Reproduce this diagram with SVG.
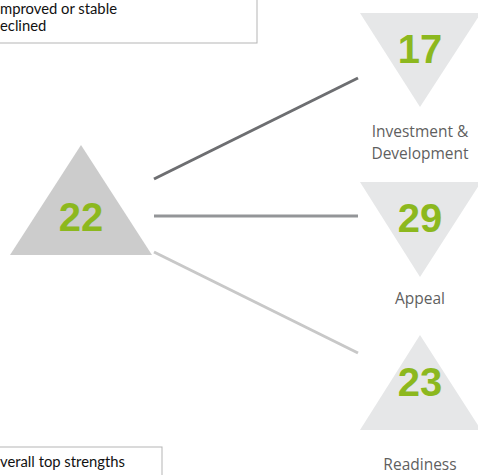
<svg xmlns="http://www.w3.org/2000/svg" width="478" height="475" viewBox="0 0 478 475">
<style>
.box{fill:#fff;stroke:#b5b5b5;stroke-width:1}
.legend{font-family:Lato,"Open Sans",sans-serif;font-size:14.8px;fill:#111}
.num{font-family:"Liberation Sans",Arial,sans-serif;font-weight:bold;font-size:40px;fill:#8cb81e;text-anchor:middle}
.lbl{font-family:"Open Sans","Liberation Sans",sans-serif;font-size:15.5px;fill:#5f5f5f;text-anchor:middle}
</style>
<rect width="478" height="475" fill="#fff"/>
<g id="legend-top">
<rect class="box" x="-5" y="-5" width="262" height="48"/>
<text class="legend" x="0" y="14">mproved or stable</text>
<text class="legend" x="0" y="31">eclined</text>
</g>
<g id="legend-bottom">
<rect class="box" x="-5" y="447" width="167" height="40"/>
<text class="legend" x="0" y="467">verall top strengths</text>
</g>
<g id="connectors" stroke-width="3" fill="none">
<line x1="154" y1="179" x2="358" y2="78" stroke="#6d6e71"/>
<line x1="154" y1="216" x2="358" y2="216" stroke="#939598"/>
<line x1="154" y1="252" x2="358" y2="353" stroke="#c8c8c8"/>
</g>
<g id="node-22">
<polygon points="81,145 152,255 10,255" fill="#cccccc"/>
<text class="num" x="81" y="231">22</text>
</g>
<g id="node-17">
<polygon points="360,13 481,13 420,107" fill="#e6e7e8"/>
<text class="num" x="420" y="63">17</text>
<text class="lbl" x="420" y="137">Investment &amp;</text>
<text class="lbl" x="420" y="159">Development</text>
</g>
<g id="node-29">
<polygon points="360,182 481,182 420,277" fill="#e6e7e8"/>
<text class="num" x="420" y="232">29</text>
<text class="lbl" x="420" y="304">Appeal</text>
</g>
<g id="node-23">
<polygon points="420,335 481,430 360,430" fill="#e6e7e8"/>
<text class="num" x="420" y="396">23</text>
<text class="lbl" x="420" y="470">Readiness</text>
</g>
</svg>
